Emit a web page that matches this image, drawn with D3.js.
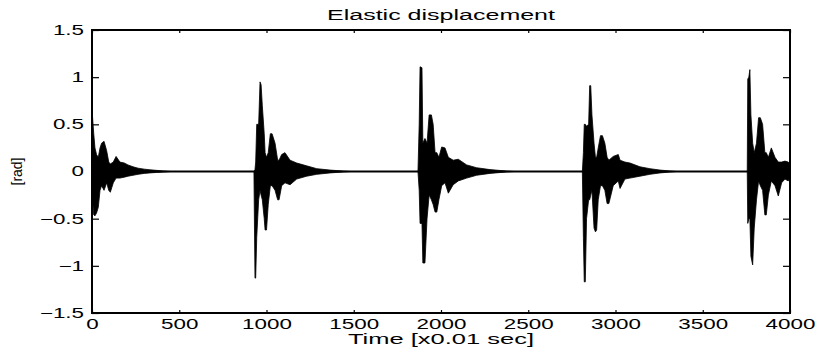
<!DOCTYPE html>
<html>
<head>
<meta charset="utf-8">
<script src="https://cdn.jsdelivr.net/npm/d3@7"></script>
<style>
  body { margin: 0; background: #fff; }
  svg { display: block; }
  text { font-family: "Liberation Sans", Arial, sans-serif; fill: #000; }
</style>
</head>
<body>
<svg id="chart" width="817" height="356"></svg>
<script>
// envelope of the elastic displacement signal
const sampleTime = [
  0, 3, 10, 17, 26, 36, 46, 55, 69, 84, 96, 105, 122, 138, 160, 185, 206, 235, 264, 300, 332, 370, 410, 450,
  928, 934, 938, 944, 955, 963, 969, 976, 987, 992, 1000, 1010, 1022, 1032, 1049, 1064, 1072, 1087, 1106, 1135, 1173, 1230, 1288, 1364, 1440, 1480,
  1868, 1875, 1880, 1891, 1896, 1908, 1920, 1932, 1945, 1955, 1966, 1976, 1988, 2004, 2023, 2042, 2070, 2099, 2147, 2204, 2281, 2376, 2420,
  2810, 2816, 2821, 2827, 2834, 2846, 2852, 2858, 2865, 2877, 2885, 2892, 2901, 2914, 2925, 2939, 2952, 2962, 2987, 3016, 3026, 3054, 3083, 3140, 3197, 3255, 3312, 3350,
  3755, 3758, 3764, 3770, 3776, 3786, 3795, 3808, 3820, 3830, 3843, 3856, 3864, 3876, 3893, 3914, 3933, 3952, 3971, 3990, 4000
];
const upperEnv = [
  0.45, 0.58, 0.4, 0.25, 0.18, 0.15, 0.25, 0.3, 0.32, 0.22, 0.1, 0.08, 0.1, 0.16, 0.1, 0.09, 0.07, 0.05, 0.035, 0.025, 0.018, 0.012, 0.006, 0,
  0, 0.02, 0.1, 0.5, 0.5, 0.95, 0.92, 0.7, 0.4, 0.2, 0.15, 0.2, 0.4, 0.4, 0.3, 0.12, 0.12, 0.18, 0.2, 0.12, 0.09, 0.06, 0.03, 0.015, 0.005, 0,
  0, 0.5, 1.11, 1.1, 0.3, 0.35, 0.3, 0.6, 0.6, 0.5, 0.2, 0.2, 0.15, 0.26, 0.25, 0.15, 0.12, 0.13, 0.07, 0.04, 0.02, 0.005, 0,
  0, 0.2, 0.5, 0.5, 0.48, 0.5, 0.91, 0.91, 0.6, 0.3, 0.15, 0.15, 0.25, 0.38, 0.38, 0.3, 0.15, 0.12, 0.16, 0.18, 0.12, 0.1, 0.09, 0.05, 0.03, 0.015, 0.006, 0,
  0, 0.98, 1.0, 1.08, 0.6, 0.3, 0.2, 0.3, 0.57, 0.57, 0.5, 0.2, 0.2, 0.15, 0.25, 0.15, 0.1, 0.1, 0.11, 0.1, 0.08
];
const lowerEnv = [
  -0.28, -0.3, -0.46, -0.47, -0.44, -0.38, -0.2, -0.15, -0.2, -0.12, -0.2, -0.22, -0.12, -0.07, -0.07, -0.06, -0.05, -0.04, -0.03, -0.02, -0.015, -0.01, -0.006, 0,
  0, -1.13, -1.13, -0.7, -0.3, -0.2, -0.25, -0.3, -0.5, -0.62, -0.62, -0.35, -0.15, -0.15, -0.2, -0.3, -0.3, -0.15, -0.12, -0.14, -0.08, -0.05, -0.03, -0.015, -0.005, 0,
  0, -0.2, -0.55, -0.55, -0.97, -0.97, -0.5, -0.25, -0.3, -0.35, -0.43, -0.43, -0.3, -0.15, -0.12, -0.23, -0.14, -0.1, -0.07, -0.04, -0.02, -0.005, 0,
  0, -0.7, -1.17, -1.17, -0.5, -0.3, -0.3, -0.25, -0.2, -0.6, -0.64, -0.62, -0.3, -0.15, -0.15, -0.2, -0.34, -0.34, -0.15, -0.1, -0.18, -0.08, -0.07, -0.05, -0.03, -0.015, -0.006, 0,
  0, -0.55, -0.5, -0.5, -0.9, -0.99, -0.6, -0.3, -0.1, -0.15, -0.2, -0.46, -0.46, -0.25, -0.1, -0.15, -0.26, -0.12, -0.08, -0.1, -0.06
];

const xTicks = [0, 500, 1000, 1500, 2000, 2500, 3000, 3500, 4000];
const yTicks = [-1.5, -1, -0.5, 0, 0.5, 1, 1.5];

const titleText = 'Elastic displacement';
const xLabelText = 'Time [x0.01 sec]';
const yLabelText = '[rad]';

const svg = d3.select('#chart');
const margin = { top: 30, right: 27, bottom: 43, left: 92 };
const width = 817 - margin.left - margin.right;
const height = 356 - margin.top - margin.bottom;
const stretch = 1.5; // the scanned figure is wider than it is tall

const g = svg.append('g').attr('transform', `translate(${margin.left},${margin.top})`);

const x = d3.scaleLinear().domain([0, 4000]).range([0, width]);
const y = d3.scaleLinear().domain([-1.5, 1.5]).range([height, 0]);

const points = sampleTime.map((t, i) => ({ t: t, hi: upperEnv[i], lo: lowerEnv[i] }));

// zero line under the bursts
g.append('line')
  .attr('x1', x(0)).attr('x2', x(4000))
  .attr('y1', y(0)).attr('y2', y(0))
  .attr('stroke', '#000').attr('stroke-width', 1.8);

const area = d3.area()
  .x(d => x(d.t))
  .y0(d => y(d.lo))
  .y1(d => y(d.hi));

g.append('path')
  .datum(points)
  .attr('d', area)
  .attr('fill', '#000')
  .attr('stroke', '#000')
  .attr('stroke-width', 0.8);

function styleAxis(sel) {
  sel.select('.domain').remove();
  sel.selectAll('line').attr('stroke', '#000').attr('stroke-width', 1.2);
  sel.selectAll('text').attr('font-size', 14);
}

const xAxis = g.append('g')
  .attr('transform', `translate(0,${height})`)
  .call(d3.axisBottom(x).tickValues(xTicks).tickSize(-3).tickPadding(6).tickFormat(d3.format('d')))
  .call(styleAxis);
xAxis.selectAll('text').attr('transform', `scale(${stretch + 0.1},1)`);

g.append('g')
  .call(d3.axisTop(x).tickValues(xTicks).tickSize(-3).tickFormat(''))
  .call(styleAxis);

const yAxis = g.append('g')
  .call(d3.axisLeft(y).tickValues(yTicks).tickSize(-7).tickPadding(8).tickFormat(d => d3.format('')(d)))
  .call(styleAxis);
yAxis.selectAll('text')
  .attr('x', function () { return +d3.select(this).attr('x') / (stretch + 0.1); })
  .attr('transform', `scale(${stretch + 0.1},1)`);

g.append('g')
  .attr('transform', `translate(${width},0)`)
  .call(d3.axisRight(y).tickValues(yTicks).tickSize(-7).tickFormat(''))
  .call(styleAxis);

// frame
g.append('rect')
  .attr('width', width).attr('height', height)
  .attr('fill', 'none').attr('stroke', '#000').attr('stroke-width', 2);

// labels
svg.append('text')
  .attr('x', margin.left + width / 2).attr('y', 20)
  .attr('text-anchor', 'middle').attr('font-size', 14)
  .attr('textLength', 228).attr('lengthAdjust', 'spacingAndGlyphs')
  .text(titleText);

svg.append('text')
  .attr('x', margin.left + width / 2).attr('y', 344)
  .attr('text-anchor', 'middle').attr('font-size', 14)
  .attr('textLength', 186).attr('lengthAdjust', 'spacingAndGlyphs')
  .text(xLabelText);

svg.append('text')
  .attr('transform', `translate(22,${y(0) + margin.top}) rotate(-90)`)
  .attr('text-anchor', 'middle').attr('font-size', 14)
  .text(yLabelText);
</script>
</body>
</html>
